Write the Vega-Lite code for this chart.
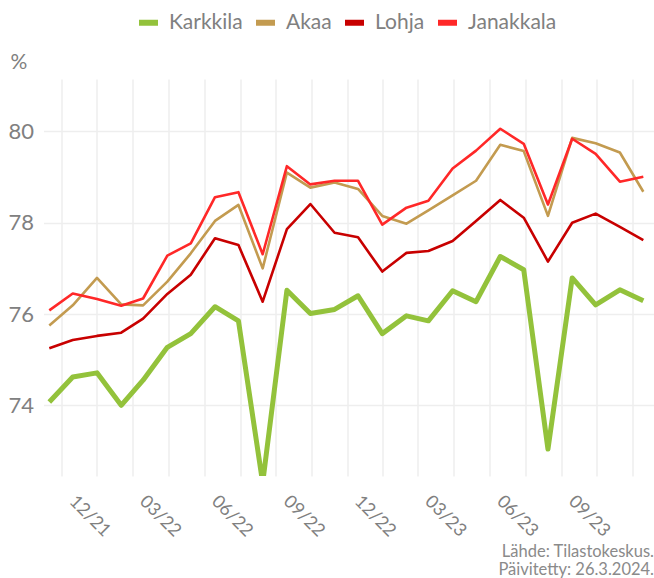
{
  "$schema": "https://vega.github.io/schema/vega-lite/v6.json",
  "width": 610.5,
  "height": 397,
  "autosize": {"type": "none"},
  "padding": {"left": 43.5, "top": 79, "right": 0, "bottom": 102},
  "background": "white",
  "config": {
    "view": {"stroke": null},
    "font": "Lato",
    "axis": {"domain": false, "ticks": false, "gridColor": "#EEEEEE", "gridWidth": 1.5, "labelColor": "#808080", "labelFont": "Lato", "titleFont": "Lato"},
    "legend": {"labelFont": "Lato"}
  },
  "title": {
    "text": ["Lähde: Tilastokeskus.", "Päivitetty: 26.3.2024."],
    "orient": "bottom",
    "anchor": "end",
    "align": "right",
    "fontSize": 16.5,
    "fontWeight": "normal",
    "color": "#8a8a8a",
    "lineHeight": 18,
    "offset": 4
  },
  "data": {
    "values": [
      {"date": "2021-11-15", "Karkkila": 74.07, "Akaa": 75.75, "Lohja": 75.25, "Janakkala": 76.08},
      {"date": "2021-12-15", "Karkkila": 74.62, "Akaa": 76.19, "Lohja": 75.43, "Janakkala": 76.45},
      {"date": "2022-01-15", "Karkkila": 74.71, "Akaa": 76.79, "Lohja": 75.52, "Janakkala": 76.33},
      {"date": "2022-02-15", "Karkkila": 74.0, "Akaa": 76.21, "Lohja": 75.59, "Janakkala": 76.18},
      {"date": "2022-03-15", "Karkkila": 74.55, "Akaa": 76.19, "Lohja": 75.9, "Janakkala": 76.34},
      {"date": "2022-04-15", "Karkkila": 75.27, "Akaa": 76.71, "Lohja": 76.44, "Janakkala": 77.28},
      {"date": "2022-05-15", "Karkkila": 75.57, "Akaa": 77.33, "Lohja": 76.86, "Janakkala": 77.55},
      {"date": "2022-06-15", "Karkkila": 76.16, "Akaa": 78.04, "Lohja": 77.66, "Janakkala": 78.56},
      {"date": "2022-07-15", "Karkkila": 75.85, "Akaa": 78.39, "Lohja": 77.51, "Janakkala": 78.67},
      {"date": "2022-08-15", "Karkkila": 72.3, "Akaa": 77.0, "Lohja": 76.27, "Janakkala": 77.31},
      {"date": "2022-09-15", "Karkkila": 76.52, "Akaa": 79.1, "Lohja": 77.86, "Janakkala": 79.24},
      {"date": "2022-10-15", "Karkkila": 76.01, "Akaa": 78.77, "Lohja": 78.41, "Janakkala": 78.84},
      {"date": "2022-11-15", "Karkkila": 76.1, "Akaa": 78.88, "Lohja": 77.78, "Janakkala": 78.92},
      {"date": "2022-12-15", "Karkkila": 76.4, "Akaa": 78.74, "Lohja": 77.68, "Janakkala": 78.92},
      {"date": "2023-01-15", "Karkkila": 75.57, "Akaa": 78.15, "Lohja": 76.93, "Janakkala": 77.96},
      {"date": "2023-02-15", "Karkkila": 75.96, "Akaa": 77.98, "Lohja": 77.34, "Janakkala": 78.33},
      {"date": "2023-03-15", "Karkkila": 75.85, "Akaa": 78.27, "Lohja": 77.38, "Janakkala": 78.48},
      {"date": "2023-04-15", "Karkkila": 76.51, "Akaa": 78.6, "Lohja": 77.6, "Janakkala": 79.19},
      {"date": "2023-05-15", "Karkkila": 76.27, "Akaa": 78.92, "Lohja": 78.04, "Janakkala": 79.58},
      {"date": "2023-06-15", "Karkkila": 77.26, "Akaa": 79.71, "Lohja": 78.5, "Janakkala": 80.06},
      {"date": "2023-07-15", "Karkkila": 76.97, "Akaa": 79.57, "Lohja": 78.11, "Janakkala": 79.73},
      {"date": "2023-08-15", "Karkkila": 73.04, "Akaa": 78.15, "Lohja": 77.15, "Janakkala": 78.4},
      {"date": "2023-09-15", "Karkkila": 76.79, "Akaa": 79.86, "Lohja": 78.0, "Janakkala": 79.84},
      {"date": "2023-10-15", "Karkkila": 76.2, "Akaa": 79.74, "Lohja": 78.2, "Janakkala": 79.51},
      {"date": "2023-11-15", "Karkkila": 76.53, "Akaa": 79.54, "Lohja": 77.91, "Janakkala": 78.9},
      {"date": "2023-12-15", "Karkkila": 76.29, "Akaa": 78.68, "Lohja": 77.62, "Janakkala": 79.01}
    ]
  },
  "transform": [
    {"fold": ["Karkkila", "Akaa", "Lohja", "Janakkala"], "as": ["kunta", "arvo"]}
  ],
  "encoding": {
    "x": {
      "field": "date",
      "type": "temporal",
      "scale": {
        "type": "utc",
        "domain": [
          {"year": 2021, "month": 11, "date": 7, "hours": 14, "utc": true},
          {"year": 2023, "month": 12, "date": 28, "hours": 16, "utc": true}
        ],
        "nice": false
      },
      "axis": {
        "title": null,
        "grid": true,
        "values": [
          {"year": 2021, "month": 12, "date": 1, "utc": true},
          {"year": 2022, "month": 1, "date": 15, "utc": true},
          {"year": 2022, "month": 3, "date": 1, "utc": true},
          {"year": 2022, "month": 4, "date": 16, "utc": true},
          {"year": 2022, "month": 6, "date": 1, "utc": true},
          {"year": 2022, "month": 7, "date": 17, "utc": true},
          {"year": 2022, "month": 9, "date": 1, "utc": true},
          {"year": 2022, "month": 10, "date": 16, "utc": true},
          {"year": 2022, "month": 12, "date": 1, "utc": true},
          {"year": 2023, "month": 1, "date": 15, "utc": true},
          {"year": 2023, "month": 3, "date": 1, "utc": true},
          {"year": 2023, "month": 4, "date": 16, "utc": true},
          {"year": 2023, "month": 6, "date": 1, "utc": true},
          {"year": 2023, "month": 7, "date": 17, "utc": true},
          {"year": 2023, "month": 9, "date": 1, "utc": true},
          {"year": 2023, "month": 10, "date": 16, "utc": true},
          {"year": 2023, "month": 12, "date": 1, "utc": true}
        ],
        "labelExpr": "utcdate(datum.value) == 1 && datum.value < utc(2023, 10, 1) ? utcFormat(datum.value, '%m/%y') : ''",
        "labelAngle": 45,
        "labelAlign": "left",
        "labelBaseline": "top",
        "labelPadding": 16,
        "labelOffset": 16,
        "labelFontSize": 18,
        "labelOverlap": false,
        "labelFlush": false,
        "labelBound": false
      }
    },
    "y": {
      "field": "arvo",
      "type": "quantitative",
      "scale": {"domain": [72.45, 81.15], "nice": false, "zero": false},
      "axis": {
        "values": [74, 76, 78, 80],
        "grid": true,
        "labelFontSize": 22,
        "labelPadding": 10,
        "title": "%",
        "titleAngle": 0,
        "titleAlign": "left",
        "titleBaseline": "middle",
        "titleX": -33.5,
        "titleY": -17,
        "titleFontSize": 21,
        "titleFontWeight": "normal",
        "titleColor": "#808080"
      }
    },
    "color": {
      "field": "kunta",
      "type": "nominal",
      "scale": {
        "domain": ["Karkkila", "Akaa", "Lohja", "Janakkala"],
        "range": ["#93C23B", "#C39B50", "#C80000", "#FF2828"]
      },
      "legend": {
        "title": null,
        "orient": "none",
        "direction": "horizontal",
        "legendX": 92.5,
        "legendY": -69,
        "padding": 0,
        "symbolType": "stroke",
        "symbolSize": 361,
        "symbolStrokeWidth": 6,
        "symbolOpacity": 1,
        "labelFontSize": 21,
        "labelColor": "#808080",
        "labelOffset": 8,
        "columnPadding": 1
      }
    }
  },
  "layer": [
    {
      "transform": [{"filter": "datum.kunta == 'Karkkila'"}],
      "mark": {"type": "line", "strokeJoin": "round", "strokeCap": "butt", "clip": true, "strokeWidth": 5}
    },
    {
      "transform": [{"filter": "datum.kunta != 'Karkkila'"}],
      "mark": {"type": "line", "strokeJoin": "round", "strokeCap": "butt", "clip": true, "strokeWidth": 2.6}
    }
  ]
}
